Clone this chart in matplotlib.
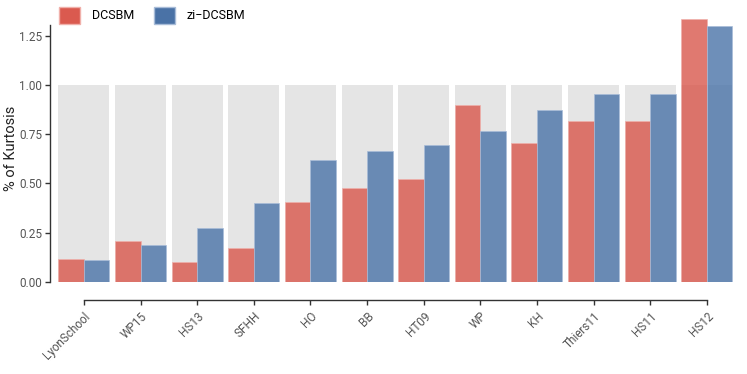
import numpy as np
import matplotlib
matplotlib.use("Agg")
import matplotlib.pyplot as plt
from matplotlib.patches import Patch

# data
datasets = ["LyonSchool", "WP15", "HS13", "SFHH", "HO", "BB", "HT09",
            "WP", "KH", "Thiers11", "HS11", "HS12"]
dcsbm = [0.117, 0.208, 0.100, 0.173, 0.406, 0.477, 0.523,
         0.898, 0.706, 0.817, 0.817, 1.333]
zi_dcsbm = [0.112, 0.188, 0.274, 0.400, 0.619, 0.665, 0.695,
            0.766, 0.873, 0.954, 0.954, 1.300]
yticks = [0.00, 0.25, 0.50, 0.75, 1.00, 1.25]

plt.rcParams['font.family'] = ['Roboto', 'DejaVu Sans']

red = "#d9574c"
blue = "#4a73a8"

fig = plt.figure(figsize=(7.47, 3.74), dpi=100)
ax = fig.add_axes([50 / 747, 92 / 374, 688 / 747, 268 / 374])

x = np.arange(len(datasets))
w = 0.45
# grey background box per dataset (height 1)
ax.bar(x, [1.0] * len(x), width=2 * w, color="#e5e5e5", zorder=1)
ax.bar(x - w / 2, dcsbm, width=w, color=red, alpha=0.8,
       edgecolor="#f0b0aa", linewidth=0.6, zorder=2)
ax.bar(x + w / 2, zi_dcsbm, width=w, color=blue, alpha=0.8,
       edgecolor="#a8bcd8", linewidth=0.6, zorder=2)

ax.set_xlim(-0.6, 11.55)
ax.set_ylim(0, 1.36)
ax.set_yticks(yticks)
ax.set_yticklabels([f"{v:.2f}" for v in yticks])
ax.set_xticks(x)
ax.set_xticklabels(datasets)

for s in ["top", "right"]:
    ax.spines[s].set_visible(False)
ax.spines["bottom"].set_position(("outward", 13))
ax.spines["bottom"].set_bounds(0, len(datasets) - 1)
ax.spines["left"].set_bounds(0, 1.305)
for s in ["bottom", "left"]:
    ax.spines[s].set_color("#333333")
    ax.spines[s].set_linewidth(1.0)
ax.tick_params(axis="both", colors="#333333", length=3.5, width=1,
               labelsize=8.5, labelcolor="#555555")
ax.tick_params(axis="y", pad=2)
for lab in ax.get_xticklabels():
    lab.set_rotation(45)
    lab.set_ha("right")
    lab.set_rotation_mode("anchor")
ax.set_ylabel("% of Kurtosis", fontsize=10.5, color="#222222")
ax.yaxis.set_label_coords(-0.046, 0.5)

handles = [Patch(facecolor="#da5a4f", edgecolor="#f0b0aa", label="DCSBM"),
           Patch(facecolor="#4a72a6", edgecolor="#a8bcd8", label="zi\u2212DCSBM")]
fig.legend(handles=handles, loc="upper left", bbox_to_anchor=(48 / 747, 1.012),
           ncol=2, frameon=False, fontsize=9, handlelength=1.7,
           handleheight=1.7, columnspacing=1.6, handletextpad=0.9)

fig.savefig("out.png", dpi=100)
